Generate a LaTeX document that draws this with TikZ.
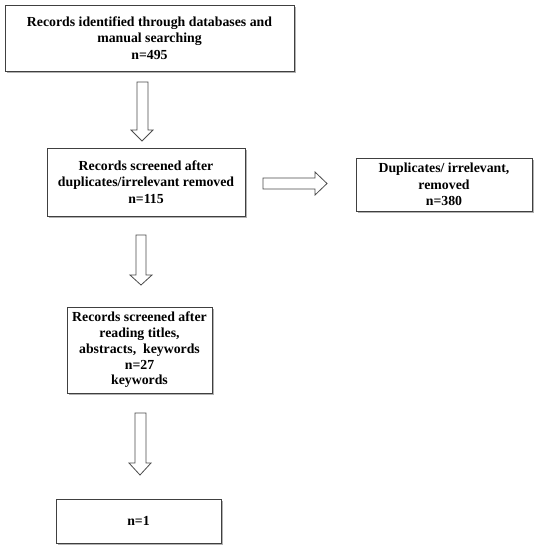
\documentclass[tikz,border=0pt]{standalone}
\usepackage{fontspec}
\setmainfont{Liberation Serif}
\usetikzlibrary{shadows}
\begin{document}
\begin{tikzpicture}[x=1pt,y=-1pt,
  box/.style={draw=black!75, line width=0.9pt, fill=white, align=center,
    font=\bfseries\fontsize{13.8}{16.5}\selectfont, inner sep=2pt,
    drop shadow={shadow xshift=1.5pt, shadow yshift=-1.8pt, fill=black!50, opacity=0.6}},
  blockarrow/.style={draw=black!70, line width=0.8pt, fill=white, line join=miter}]
\useasboundingbox (0,0) rectangle (536,550);
\fill[white] (0,0) rectangle (536,550);

\node[box, minimum width=289pt, minimum height=66pt] (b1) at (149.5,38)
  {Records identified through databases and\\manual searching\\n=495};
\node[box, minimum width=198pt, minimum height=68pt] (b2) at (146,182)
  {Records screened after\\duplicates/irrelevant removed\\n=115};
\node[box, minimum width=176pt, minimum height=53pt] (b3) at (444,184.5)
  {Duplicates/ irrelevant,\\removed\\n=380};
\node[box, minimum width=145pt, minimum height=86pt, font=\bfseries\fontsize{13.8}{15.7}\selectfont] (b4) at (139.5,350)
  {Records screened after\\reading titles,\\abstracts,\ \ keywords\\n=27\\keywords};
\node[box, minimum width=165pt, minimum height=44pt] (b5) at (138.5,521) {n=1};

% vertical block arrows
\draw[blockarrow] (137,82) -- (137,130) -- (131,130) -- (142,141) -- (153,130) -- (148,130) -- (148,82) -- cycle;
\draw[blockarrow] (136,235) -- (136,275) -- (130,275) -- (141,285) -- (152,275) -- (146,275) -- (146,235) -- cycle;
\draw[blockarrow] (135,413) -- (135,463) -- (129,463) -- (140,475) -- (151,463) -- (146,463) -- (146,413) -- cycle;
% horizontal block arrow
\draw[blockarrow] (263,178) -- (315,178) -- (315,172) -- (327,183.5) -- (315,195) -- (315,189) -- (263,189) -- cycle;
\end{tikzpicture}
\end{document}
